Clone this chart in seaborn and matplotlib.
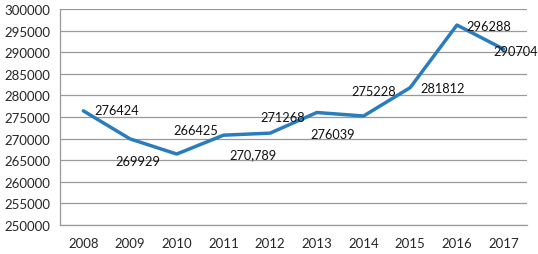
import matplotlib
matplotlib.use("Agg")
import matplotlib.pyplot as plt
import seaborn as sns
import numpy as np
import pandas as pd

years = ["2008", "2009", "2010", "2011", "2012", "2013", "2014", "2015", "2016", "2017"]
values = [276424, 269929, 266425, 270789, 271268, 276039, 275228, 281812, 296288, 290704]
labels = ["276424", "269929", "266425", "270,789", "271268", "276039", "275228", "281812", "296288", "290704"]
# label offsets in pixels (dx, dy) relative to point
offsets = [(33, 1), (8, -22), (19, 24), (30, -19), (13, 16), (16, -21), (10, 25), (32, 0), (32, -1), (12, -2)]

sns.set_style("white")
plt.rcParams['font.family'] = ['Lato', 'DejaVu Sans']

fig = plt.figure(figsize=(5.38, 2.55), dpi=100)
ax = fig.add_axes([60/538, 1-226/255, (527-60)/538, (226-10)/255])

df = pd.DataFrame({"pos": np.arange(len(years)), "value": values})
sns.lineplot(data=df, x="pos", y="value", ax=ax, color="#2a7dbd", linewidth=2.5)

for i, (v, lab, off) in enumerate(zip(values, labels, offsets)):
    ax.annotate(lab, (i, v), xytext=off, textcoords="offset pixels",
                ha="center", va="center", fontsize=9.2, color="#111111")

ax.set_xlim(-0.5, len(years) - 0.5)
ax.set_ylim(250000, 300000)
ax.set_yticks(np.arange(250000, 300001, 5000))
ax.set_yticklabels([str(t) for t in range(250000, 300001, 5000)])
ax.set_xticks(np.arange(len(years)))
ax.set_xticklabels(years)
ax.set_xticks(np.arange(-0.5, len(years), 1), minor=True)
ax.tick_params(axis="x", which="major", length=0, pad=9, labelsize=9.5)
ax.tick_params(axis="x", which="minor", length=4, color="#999999", width=0.8)
ax.tick_params(axis="y", length=4, color="#999999", width=0.8, labelsize=9.5, pad=3)
ax.grid(axis="y", color="#999999", linewidth=0.9)
ax.set_axisbelow(True)
ax.set_xlabel("")
ax.set_ylabel("")
for s in ["top", "right"]:
    ax.spines[s].set_visible(False)
for s in ["left", "bottom"]:
    ax.spines[s].set_color("#999999")
    ax.spines[s].set_linewidth(0.9)

fig.savefig("out.png", dpi=100)
